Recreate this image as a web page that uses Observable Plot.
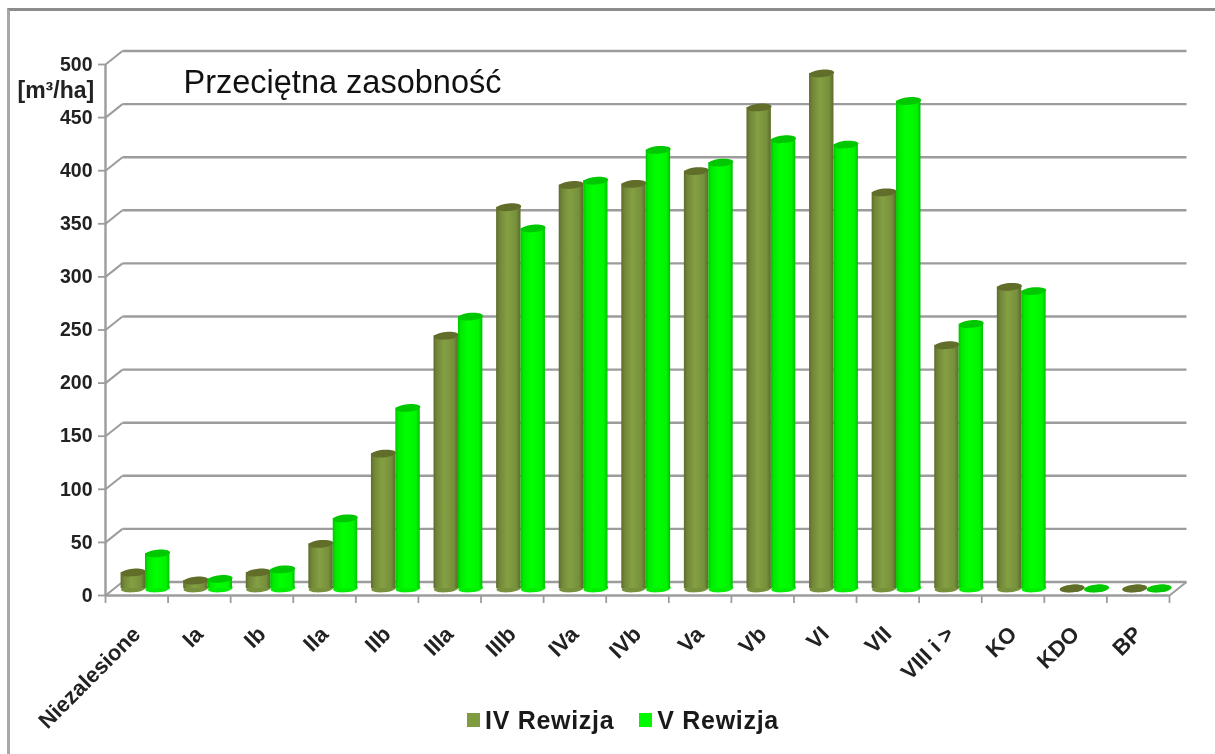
<!DOCTYPE html>
<html lang="pl"><head><meta charset="utf-8">
<script src="https://cdn.jsdelivr.net/npm/d3@7"></script>
<script src="https://cdn.jsdelivr.net/npm/@observablehq/plot@0.6"></script>
<style>
html,body{margin:0;padding:0;background:#fff;width:1215px;height:754px;overflow:hidden;font-family:"Liberation Sans",Arial,sans-serif}
#wrap{position:absolute;left:0;top:0;width:1215px;height:754px}
#wrap svg{filter:blur(0.5px)}
#frame{position:absolute;left:7px;top:8px;width:1208px;height:746px;border-left:3px solid #a8a8a8;border-top:3px solid #8c8c8c;box-sizing:border-box}
#legend{position:absolute;left:467px;top:705px;height:30px;display:flex;align-items:center;font:bold 25px "Liberation Sans",Arial,sans-serif;color:#1a1a1a;letter-spacing:.7px;filter:blur(.5px)}
#legend i{display:inline-block;width:13px;height:14px;margin-right:5px}
#legend span{display:inline-flex;align-items:center;margin-right:25px}
</style></head><body>
<div id="frame"></div>
<div id="wrap"></div>
<div id="legend"></div>
<script>
const categories = ["Niezalesione","Ia","Ib","IIa","IIb","IIIa","IIIb","IVa","IVb","Va","Vb","VI","VII","VIII i >","KO","KDO","BP"];
const rewizjaIV = [15,7.5,15,42,127,238,359,380,381,393,453,485,373,229,284,0,0];
const rewizjaV  = [33,9,18,66,170,256,339,384,413,401,423,418,459,249,280,0,0];
const seriesNames = ["IV Rewizja","V Rewizja"];
const yTicks = [0,50,100,150,200,250,300,350,400,450,500];

const mid = 0.5, barW = 0.39;           // in category units
const depthX = 17/62.6, depthY = 13.5/1.062;  // back wall, in scale units
const rows = s => s.map((v,i)=>({cat:categories[i], i, v}));
const dataIV = rows(rewizjaIV), dataV = rows(rewizjaV);
const barDx = 8.7, barDy = -7;

const ellipse = {draw(ctx){
  const rx=12.4, ry=3.8, k=0.5523, ax=rx*k, ay=ry*k, t=-0.09, c=Math.cos(t), s=Math.sin(t);
  const X=(x,y)=>x*c-y*s, Y=(x,y)=>x*s+y*c;
  const curve=(a,b,e,f,g,h)=>ctx.bezierCurveTo(X(a,b),Y(a,b),X(e,f),Y(e,f),X(g,h),Y(g,h));
  ctx.moveTo(X(rx,0),Y(rx,0));
  curve(rx,ay,ax,ry,0,ry);
  curve(-ax,ry,-rx,ay,-rx,0);
  curve(-rx,-ay,-ax,-ry,0,-ry);
  curve(ax,-ry,rx,-ay,rx,0);
  ctx.closePath();
}};

function defs(){
  const svg = d3.create("svg:g");
  const d = svg.append("defs");
  const add=(id,stops)=>{const g=d.append("linearGradient").attr("id",id).attr("x1","0").attr("x2","1").attr("y1","0").attr("y2","0");
    stops.forEach(([o,c])=>g.append("stop").attr("offset",o).attr("stop-color",c));};
  add("gOlive",[[0,"#5e6c2c"],[.14,"#728638"],[.45,"#84a042"],[.82,"#76903c"],[1,"#5c6a2c"]]);
  add("gGreen",[[0,"#00c400"],[.12,"#00ea00"],[.42,"#00ff00"],[.85,"#00f400"],[1,"#00c000"]]);
  return svg.node();
}

function cyl(data, x1off, fillGrad, topCol, baseCol){
  const center = d=>d.i+x1off+barW/2;
  const common = {dx:barDx, dy:barDy};
  return [
    Plot.dot(data,{x:center,y:()=>0,symbol:ellipse,r:5,fill:baseCol,stroke:"none",...common}),
    Plot.rect(data,{x1:d=>d.i+x1off,x2:d=>d.i+x1off+barW,y1:()=>0,y2:d=>d.v,fill:fillGrad,...common}),
    Plot.dot(data,{x:center,y:d=>d.v,symbol:ellipse,r:5,fill:topCol,stroke:"none",...common})
  ];
}

const grid = "#9c9c9c";
const chart = Plot.plot({
  width:1215, height:754,
  marginLeft:105, marginRight:46, marginTop:64, marginBottom:159,
  style:{background:"transparent",fontFamily:"'Liberation Sans',Arial,sans-serif"},
  x:{domain:[0,categories.length],range:[105,1169]},
  y:{domain:[0,500],range:[595,64]},
  marks:[
    defs,
    // back wall grid
    Plot.link(yTicks,{x1:()=>depthX,x2:()=>categories.length+depthX,y1:d=>d+depthY,y2:d=>d+depthY,stroke:grid,strokeWidth:2.4}),
    // side wall diagonals
    Plot.link(yTicks,{x1:()=>0,x2:()=>depthX,y1:d=>d,y2:d=>d+depthY,stroke:grid,strokeWidth:2}),
    // floor right diagonal
    Plot.link([0],{x1:()=>categories.length,x2:()=>categories.length+depthX,y1:()=>0,y2:()=>depthY,stroke:grid,strokeWidth:2}),
    ...cyl(dataIV,mid-barW,"url(#gOlive)","#606e2a","#76903c"),
    ...cyl(dataV,mid,"url(#gGreen)","#00c800","#00ee00"),
    Plot.ruleY([0],{stroke:grid,strokeWidth:2.4}),
    Plot.ruleX([0],{y1:0,y2:500,stroke:grid,strokeWidth:2.4}),
    Plot.axisY({ticks:yTicks,tickSize:7,tickPadding:6,stroke:grid,strokeWidth:1.8,fontSize:19.5,fontWeight:"bold",fill:"#222",label:null}),
    Plot.axisX({ticks:d3.range(categories.length+1),tickSize:8,stroke:grid,strokeWidth:1.8,tickFormat:()=>"",label:null}),
    Plot.axisX({ticks:categories.map((c,i)=>i+0.5),tickSize:0,tickPadding:35,tickRotate:-45,tickFormat:d=>categories[d-0.5],fontSize:22,fontWeight:"bold",fill:"#222",label:null,stroke:"none"}),
    Plot.text(["Przeciętna zasobność"],{frameAnchor:"top-left",dx:78,dy:5,fontSize:32.5,fill:"#111",textAnchor:"start",lineAnchor:"top"}),
    Plot.text(["[m³/ha]"],{frameAnchor:"top-left",dx:-88,dy:17,fontSize:23,fontWeight:"bold",fill:"#222",textAnchor:"start",lineAnchor:"top"})
  ]
});
document.getElementById("wrap").append(chart);
const legend=document.getElementById("legend");
[["#7f9a3f",seriesNames[0]],["#00f800",seriesNames[1]]].forEach(([c,n])=>{
  const s=document.createElement("span");const k=document.createElement("i");k.style.background=c;s.append(k,n);legend.append(s);
});
</script>
</body></html>
